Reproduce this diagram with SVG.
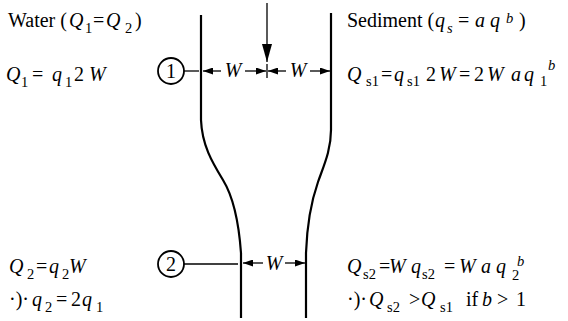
<svg xmlns="http://www.w3.org/2000/svg" width="568" height="321" viewBox="0 0 568 321">
<style>
.t{font-family:"Liberation Serif","Times New Roman",serif;font-size:20px;fill:#000}
.i{font-style:italic}
.s{font-size:14.5px}
.wall{fill:none;stroke:#000;stroke-width:2.2}
.ln{stroke:#000;stroke-width:1.3;fill:none}
.circ{fill:#fff;stroke:#000;stroke-width:1.8}
</style>
<defs>
<marker id="ah" markerUnits="userSpaceOnUse" markerWidth="10" markerHeight="7" refX="10" refY="3.5" orient="auto"><path d="M0,0 L10,3.5 L0,7 z" fill="#000"/></marker>
<marker id="big" markerUnits="userSpaceOnUse" markerWidth="18" markerHeight="10" refX="18" refY="5" orient="auto"><path d="M0,0 L18,5 L0,10 z" fill="#000"/></marker>
</defs>
<rect width="568" height="321" fill="#fff"/>
<g id="channel">
<path class="wall" d="M201,15 V120 C202,145 212,162 223,180 C234,198 239,225 241,253 V318"/>
<path class="wall" d="M331,13 V130 C331,150 324,165 318,182 C311,202 307,225 306,253 V318"/>
</g>
<g id="connectors">
<line class="ln" x1="267" y1="3" x2="267" y2="62" stroke-width="1.6" marker-end="url(#big)"/>
<line class="ln" x1="267" y1="64" x2="267" y2="78" stroke-width="1"/>
<line class="ln" x1="221" y1="71" x2="203" y2="71" marker-end="url(#ah)"/>
<line class="ln" x1="245" y1="71" x2="266" y2="71" marker-end="url(#ah)"/>
<line class="ln" x1="286" y1="71" x2="268" y2="71" marker-end="url(#ah)"/>
<line class="ln" x1="310" y1="71" x2="330" y2="71" marker-end="url(#ah)"/>
<line class="ln" x1="263" y1="263" x2="243" y2="263" marker-end="url(#ah)"/>
<line class="ln" x1="285" y1="263" x2="305" y2="263" marker-end="url(#ah)"/>
<line class="ln" x1="184" y1="71" x2="199" y2="71"/>
<line class="ln" x1="184" y1="264" x2="238" y2="264" stroke="#444"/>
</g>
<g id="dim-labels">
<text class="t i" x="233" y="77" text-anchor="middle">W</text>
<text class="t i" x="298" y="77" text-anchor="middle">W</text>
<text class="t i" x="274" y="270" text-anchor="middle">W</text>
</g>
<g id="section1">
<circle class="circ" cx="171" cy="71" r="13"/>
<text class="t" x="171" y="78" text-anchor="middle" font-size="21">1</text>
</g>
<g id="section2">
<circle class="circ" cx="171" cy="264" r="13"/>
<text class="t" x="171" y="271" text-anchor="middle" font-size="21">2</text>
</g>
<g id="water-text">
<text class="t"><tspan x="8" y="27">Water (</tspan><tspan class="i" x="69" y="27">Q</tspan><tspan class="s" x="85" y="33">1</tspan><tspan x="93" y="27">=</tspan><tspan class="i" x="106" y="27">Q</tspan><tspan class="s" x="125" y="33">2</tspan><tspan x="135" y="27">)</tspan></text>
<text class="t"><tspan class="i" x="6" y="81">Q</tspan><tspan class="s" x="21" y="87">1</tspan><tspan x="32" y="81">=</tspan><tspan class="i" x="52" y="81">q</tspan><tspan class="s" x="65" y="87">1</tspan><tspan x="74" y="81">2</tspan><tspan class="i" x="89" y="81">W</tspan></text>
<text class="t"><tspan class="i" x="9" y="273">Q</tspan><tspan class="s" x="27" y="279">2</tspan><tspan x="36" y="273">=</tspan><tspan class="i" x="49" y="273">q</tspan><tspan class="s" x="62" y="279">2</tspan><tspan class="i" x="69" y="273">W</tspan></text>
<text class="t"><tspan x="9" y="306">·)·</tspan><tspan class="i" x="32" y="306">q</tspan><tspan class="s" x="45" y="312">2</tspan><tspan x="56" y="306">=</tspan><tspan x="71" y="306">2</tspan><tspan class="i" x="82" y="306">q</tspan><tspan class="s" x="96" y="312">1</tspan></text>
</g>
<g id="sediment-text">
<text class="t"><tspan x="347" y="27">Sediment (</tspan><tspan class="i" x="435" y="27">q</tspan><tspan class="s i" x="447" y="33">s</tspan><tspan x="458" y="27">=</tspan><tspan class="i" x="475" y="27">a</tspan><tspan class="i" x="490" y="27">q</tspan><tspan class="s i" x="506" y="23">b</tspan><tspan x="519" y="27">)</tspan></text>
<text class="t"><tspan class="i" x="347" y="81">Q</tspan><tspan class="s" x="366" y="86">s1</tspan><tspan x="381" y="81">=</tspan><tspan class="i" x="394" y="81">q</tspan><tspan class="s" x="407" y="86">s1</tspan><tspan x="426" y="81">2</tspan><tspan class="i" x="439" y="81">W</tspan><tspan x="459" y="81">=</tspan><tspan x="474" y="81">2</tspan><tspan class="i" x="487" y="81">W</tspan><tspan class="i" x="511" y="81">a</tspan><tspan class="i" x="524" y="81">q</tspan><tspan class="s" x="540" y="86">1</tspan><tspan class="s i" x="548" y="70">b</tspan></text>
<text class="t"><tspan class="i" x="347" y="273">Q</tspan><tspan class="s" x="363" y="279">s2</tspan><tspan x="379" y="273">=</tspan><tspan class="i" x="389" y="273">W</tspan><tspan class="i" x="411" y="273">q</tspan><tspan class="s" x="422" y="279">s2</tspan><tspan x="444" y="273">=</tspan><tspan class="i" x="459" y="273">W</tspan><tspan class="i" x="481" y="273">a</tspan><tspan class="i" x="496" y="273">q</tspan><tspan class="s" x="512" y="280">2</tspan><tspan class="s i" x="517" y="266">b</tspan></text>
<text class="t"><tspan x="347" y="306">·)·</tspan><tspan class="i" x="369" y="306">Q</tspan><tspan class="s" x="387" y="312">s2</tspan><tspan x="409" y="306">&gt;</tspan><tspan class="i" x="421" y="306">Q</tspan><tspan class="s" x="440" y="312">s1</tspan><tspan x="466" y="306">if</tspan><tspan class="i" x="482" y="306">b</tspan><tspan x="497" y="306">&gt;</tspan><tspan x="516" y="306">1</tspan></text>
</g>
</svg>
